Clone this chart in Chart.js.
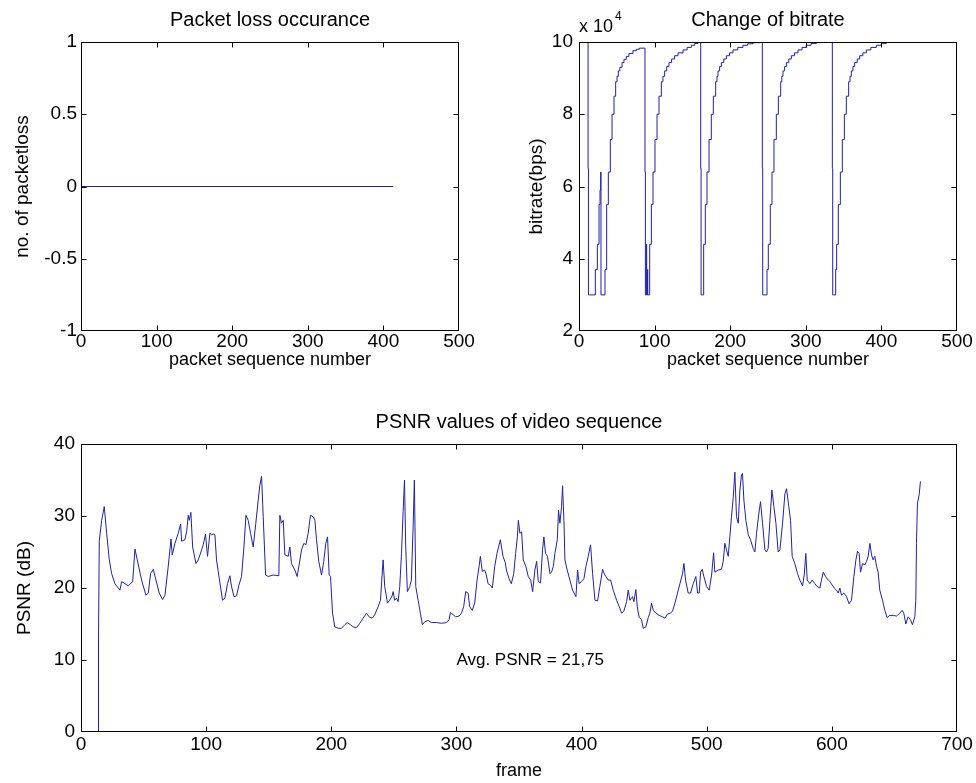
<!DOCTYPE html>
<html><head><meta charset="utf-8">
<script src="https://cdn.jsdelivr.net/npm/chart.js@4.4.0/dist/chart.umd.min.js"></script>
<style>
html,body{margin:0;padding:0;background:#fff;}
body{width:976px;height:783px;position:relative;overflow:hidden;}
.box{position:absolute;}
</style></head><body>
<div class="box" style="left:0;top:0;width:480px;height:380px"><canvas id="c1"></canvas></div>
<div class="box" style="left:490px;top:0;width:486px;height:380px"><canvas id="c2"></canvas></div>
<div class="box" style="left:0;top:400px;width:976px;height:383px"><canvas id="c3"></canvas></div>
<script>
// ---------- data ----------
const lossSeq = [1, 413];
const lossCount = [0, 0];

// bitrate: packet number where the rate changes, and the new rate (bps)
const bitrateSeq = [
  1, 12, 12.5, 21.6, 24.3, 26.5, 27.8, 28.7, 29.1,
  34.4, 36.6, 38.8, 41.4, 43.7, 46.3, 48.5, 50.3, 52, 54, 56.9, 59.5, 62.6, 66, 71.4, 75.8, 80,
  87.3, 87.8, 89, 89.5, 90.5, 91,
  93.5, 95.7, 97.9, 100.5, 103.2, 105.8, 108.9, 111, 113.3, 116, 119, 122.5, 126.5, 131, 137.6, 143, 148.6, 153, 157.4,
  161, 161.5,
  164.9, 167.1, 169.3, 172, 175, 177.7, 180.8, 182.5, 183.9, 186, 188.3, 191.5, 194.9, 199, 203.7, 210, 216.9, 223, 230.2, 239,
  242.5, 243,
  248.7, 250.4, 253, 255.3, 257.9, 261, 263.7, 266.8, 268.3, 269.8, 272, 274.3, 277.5, 280.9, 285, 289.7, 295, 300.7, 307, 313.9,
  335.1, 335.6,
  339.5, 340.8, 343, 345.7, 348.3, 351, 353.6, 356.7, 358.5, 360.2, 362.3, 364.6, 368, 371.3, 375.5, 380.1, 386, 393.3, 400, 406.5, 412];
const bitrateBps = [
  100000, 65000, 30000, 37000, 44000, 55000, 59000, 64000, 30000,
  37000, 55000, 64000, 73000, 80000, 85000, 89000, 90500, 92000, 93000, 94300, 95200, 96000, 96800, 97600, 98000, 98300,
  64000, 30000, 44000, 30000, 37000, 30000,
  44000, 55000, 64000, 73000, 80000, 85000, 89000, 90500, 92000, 93200, 94300, 95300, 96200, 97000, 97800, 98500, 99100, 99600, 100000,
  65000, 30000,
  44000, 55000, 64000, 73000, 80000, 85000, 89000, 90500, 92000, 93200, 94300, 95300, 96200, 97000, 97800, 98500, 99100, 99500, 99800, 100000,
  65000, 30000,
  37000, 44000, 55000, 64000, 73000, 80000, 85000, 89000, 90500, 92000, 93200, 94300, 95300, 96200, 97000, 97800, 98500, 99100, 99600, 100000,
  65000, 30000,
  37000, 44000, 55000, 64000, 73000, 80000, 85000, 89000, 90500, 92000, 93200, 94300, 95300, 96200, 97000, 97800, 98500, 99100, 99600, 100000, 100000];

const psnrFrames = [13.8, 14.0, 14.6, 16.5, 18.6, 20.5, 22.6, 24.5, 27.1, 31.1,
  32.5, 35.1, 37.8, 41.3, 43.1, 45.0, 48.4, 51.9, 53.8, 55.6,
  57.8, 59.9, 62.5, 65.2, 67.1, 69.7, 71.9, 72.9, 75.1, 77.7,
  79.6, 80.4, 83.0, 84.4, 85.7, 86.5, 87.8, 89.2, 91.8, 93.7,
  96.4, 97.7, 99.5, 101.1, 103.0, 104.3, 105.7, 107.0, 108.3, 110.5,
  113.1, 115.0, 117.1, 119.0, 120.3, 122.2, 124.3, 126.2, 128.3, 130.2,
  131.8, 133.6, 135.5, 137.6, 139.7, 141.6, 142.9, 144.3, 145.6, 147.5,
  149.6, 153.6, 158.1, 158.9, 160.2, 161.6, 162.9, 165.6, 166.9, 168.2,
  170.9, 172.7, 174.3, 176.2, 178.1, 179.7, 181.5, 183.4, 185.5, 186.9,
  188.2, 190.0, 192.2, 194.0, 195.6, 197.0, 198.3, 199.4, 201.0, 202.8,
  205.5, 208.1, 210.8, 212.7, 215.3, 217.5, 220.1, 222.8, 225.4, 228.1,
  230.2, 232.6, 234.8, 237.4, 239.3, 240.6, 241.4, 242.7, 244.9, 246.7,
  248.6, 249.4, 250.7, 252.1, 253.4, 254.7, 256.1, 257.4, 258.5, 259.5,
  260.8, 262.7, 264.0, 265.4, 266.4, 267.5, 269.4, 271.2, 272.8, 274.7,
  277.3, 280.0, 284.0, 288.0, 292.0, 294.1, 295.2, 297.3, 299.4, 302.1,
  304.0, 305.8, 307.4, 309.3, 310.6, 312.7, 314.6, 316.5, 318.1, 319.1,
  320.7, 322.6, 323.9, 325.3, 327.1, 328.7, 330.6, 332.4, 335.1, 337.2,
  339.1, 339.9, 342.0, 343.9, 345.8, 347.3, 348.7, 349.5, 350.7, 352.1,
  353.4, 355.5, 357.4, 359.3, 360.9, 362.7, 364.1, 365.4, 367.2, 368.8,
  369.9, 371.2, 372.8, 374.7, 376.0, 377.4, 378.7, 380.6, 381.6, 382.7,
  384.0, 384.8, 385.9, 386.7, 388.5, 390.7, 392.8, 395.5, 396.8, 398.1,
  400.0, 401.9, 403.5, 405.3, 407.2, 408.8, 410.7, 412.8, 414.6, 416.8,
  417.8, 419.4, 421.3, 423.2, 425.3, 428.0, 430.1, 432.0, 433.8, 436.0,
  437.3, 438.6, 440.7, 441.8, 443.4, 444.5, 446.1, 447.9, 449.3, 451.4,
  453.3, 454.6, 455.9, 457.3, 459.4, 462.0, 464.7, 466.6, 468.7, 471.1,
  472.7, 474.6, 476.7, 478.6, 480.7, 481.8, 483.1, 485.2, 487.1, 489.2,
  491.3, 492.7, 494.0, 495.1, 496.4, 497.7, 499.9, 502.0, 503.9, 505.5,
  506.5, 509.2, 511.8, 513.2, 514.5, 515.8, 517.2, 518.5, 519.8, 521.2,
  522.5, 523.8, 525.2, 526.5, 527.8, 528.6, 529.7, 531.3, 533.2, 535.0,
  537.1, 538.5, 539.8, 541.7, 543.0, 544.6, 546.5, 547.8, 549.1, 550.5,
  552.1, 553.7, 555.3, 557.1, 558.5, 560.6, 562.5, 563.8, 565.6, 567.0,
  568.3, 570.4, 572.6, 574.4, 576.6, 577.9, 579.2, 580.3, 582.4, 584.3,
  586.4, 588.3, 590.4, 591.7, 593.1, 594.9, 597.1, 598.4, 600.3, 601.9,
  603.7, 605.1, 606.4, 607.7, 609.6, 611.7, 613.8, 615.7, 617.6, 619.2,
  620.5, 621.8, 622.9, 624.5, 626.4, 627.7, 629.0, 630.4, 631.7, 633.0,
  634.3, 635.7, 637.0, 638.3, 640.5, 642.3, 644.2, 646.3, 649.0, 651.6,
  654.3, 656.2, 657.5, 659.1, 661.0, 662.8, 664.4, 666.3, 667.1, 667.6,
  668.4, 669.7, 670.8];
const psnrDb = [0, 13.2, 26.5, 29.4, 31.3, 27.6, 23.9, 22.0, 20.6, 19.7,
  20.9, 20.6, 20.3, 20.9, 25.4, 23.9, 21.1, 19.0, 19.3, 22.0,
  22.6, 21.1, 19.3, 18.4, 19.0, 23.0, 26.8, 24.6, 26.2, 27.6,
  28.9, 26.5, 26.7, 27.8, 30.1, 29.4, 30.5, 25.7, 23.4, 23.9,
  25.3, 26.0, 27.5, 24.4, 27.6, 27.4, 27.5, 27.4, 23.9, 21.3,
  18.3, 18.6, 20.6, 21.7, 20.2, 18.8, 18.9, 20.4, 21.6, 25.7,
  30.1, 29.4, 27.6, 25.7, 29.0, 32.2, 34.3, 35.5, 29.9, 21.8,
  21.6, 21.8, 21.7, 30.1, 29.0, 29.4, 24.6, 24.4, 25.7, 23.4,
  22.5, 21.6, 23.2, 25.3, 26.2, 26.0, 27.6, 30.1, 29.9, 29.4,
  26.7, 23.7, 21.8, 23.7, 26.2, 27.1, 21.8, 21.6, 16.5, 14.6,
  14.4, 14.4, 14.9, 15.2, 14.9, 14.6, 14.5, 15.1, 15.8, 16.5,
  16.0, 15.8, 16.3, 17.4, 18.3, 21.8, 23.9, 20.2, 17.9, 18.3,
  18.9, 19.5, 18.3, 18.6, 18.1, 20.2, 24.8, 30.6, 35.0, 25.7,
  19.5, 20.2, 21.1, 28.5, 35.0, 20.2, 18.3, 16.5, 14.9, 15.3,
  15.5, 15.2, 15.2, 15.1, 15.2, 15.6, 16.6, 16.3, 16.0, 16.1,
  16.5, 17.4, 19.5, 19.3, 17.4, 16.9, 17.9, 21.1, 23.0, 24.4,
  22.3, 22.5, 21.8, 20.6, 20.4, 20.0, 23.0, 24.8, 26.7, 24.4,
  23.5, 22.5, 21.3, 20.6, 22.0, 24.8, 27.1, 29.4, 27.6, 27.8,
  23.9, 23.0, 21.6, 21.1, 19.5, 22.5, 23.7, 20.9, 20.7, 25.3,
  27.1, 24.8, 24.4, 22.0, 22.2, 23.0, 24.8, 26.7, 30.8, 29.0,
  31.3, 34.2, 29.4, 23.9, 22.5, 21.1, 19.7, 18.8, 22.5, 20.6,
  20.9, 21.3, 23.0, 24.4, 26.0, 22.0, 18.3, 18.2, 20.2, 22.6,
  22.1, 21.6, 21.1, 21.1, 19.7, 18.3, 17.4, 16.5, 16.8, 18.1,
  19.7, 18.3, 18.8, 18.1, 19.8, 17.4, 15.9, 15.6, 14.4, 14.6,
  15.9, 16.5, 17.9, 16.9, 16.5, 16.2, 16.0, 15.8, 16.4, 16.5,
  16.8, 17.9, 19.3, 20.6, 22.0, 23.4, 21.1, 19.3, 19.3, 20.6,
  21.6, 19.3, 19.3, 22.2, 22.6, 21.6, 20.2, 19.7, 21.8, 24.9,
  22.2, 22.5, 22.6, 23.7, 26.2, 25.3, 24.4, 27.1, 29.9, 32.6,
  36.1, 29.9, 29.0, 33.6, 35.7, 35.9, 32.2, 29.4, 27.4, 26.7,
  25.5, 25.0, 27.6, 30.4, 32.0, 29.0, 25.3, 25.0, 25.5, 29.4,
  33.6, 31.3, 29.0, 25.0, 25.3, 29.0, 33.1, 33.8, 31.3, 29.4,
  24.4, 23.4, 22.0, 21.1, 20.3, 21.8, 24.8, 21.1, 20.6, 21.1,
  20.6, 20.2, 20.0, 21.1, 22.2, 21.6, 21.1, 20.9, 20.4, 20.0,
  19.7, 19.3, 20.0, 19.0, 19.3, 18.8, 17.8, 18.3, 21.6, 23.9,
  25.1, 24.8, 22.2, 23.4, 23.2, 23.7, 24.4, 26.2, 24.6, 23.9,
  24.4, 23.0, 22.2, 19.7, 18.3, 16.9, 15.9, 16.2, 16.2, 16.1,
  16.5, 16.9, 16.5, 15.0, 16.0, 15.6, 14.9, 16.0, 18.3, 26.2,
  31.8, 32.9, 34.8];

const avgText = 'Avg. PSNR = 21,75';
const avgPos = {x: 300, y: 10};

// ---------- helpers ----------
const FAM = '"Liberation Sans", Arial, Helvetica, sans-serif';
const LINE = '#2020a8';
Chart.defaults.font.family = FAM;
Chart.defaults.color = '#000';

const matlabBox = {
  id: 'matlabBox',
  afterDatasetsDraw(chart) {
    const {ctx, chartArea: a, scales: {x, y}} = chart;
    const L = 5;
    ctx.save();
    ctx.strokeStyle = '#000';
    ctx.lineWidth = 1;
    const l = Math.round(a.left) + 0.5, r = Math.round(a.right) - 0.5;
    const t = Math.round(a.top) + 0.5, b = Math.round(a.bottom) - 0.5;
    ctx.strokeRect(l, t, r - l, b - t);
    ctx.beginPath();
    x.ticks.forEach(tk => {
      const p = Math.round(x.getPixelForValue(tk.value)) + 0.5;
      if (p <= l + 1 || p >= r - 1) return;
      ctx.moveTo(p, b); ctx.lineTo(p, b - L);
      ctx.moveTo(p, t); ctx.lineTo(p, t + L);
    });
    y.ticks.forEach(tk => {
      const p = Math.round(y.getPixelForValue(tk.value)) + 0.5;
      if (p <= t + 1 || p >= b - 1) return;
      ctx.moveTo(l, p); ctx.lineTo(l + L, p);
      ctx.moveTo(r, p); ctx.lineTo(r - L, p);
    });
    ctx.stroke();
    ctx.restore();
  }
};

function xAxis(max, text, height, tickPad, titlePadBottom) {
  return {
    type: 'linear', min: 0, max: max,
    grid: {display: false, drawTicks: false}, border: {display: false},
    ticks: {stepSize: 100, padding: tickPad, color: '#000', maxRotation: 0, autoSkip: false,
            font: {size: 19, lineHeight: 1}},
    title: {display: true, text: text, color: '#000', font: {size: 18}, padding: {top: 0, bottom: titlePadBottom}},
    afterFit(s) { s.height = height; }
  };
}
function yAxis(min, max, step, text, width, tickPad, titlePadTop, cb) {
  return {
    type: 'linear', min: min, max: max,
    grid: {display: false, drawTicks: false}, border: {display: false},
    ticks: {stepSize: step, padding: tickPad, color: '#000', font: {size: 19}, callback: cb},
    title: {display: true, text: text, color: '#000', font: {size: 19}, padding: {top: titlePadTop, bottom: 0}},
    afterFit(s) { s.width = width; }
  };
}
function titleOpt(text, top, bottom) {
  return {display: true, text: text, color: '#000', fullSize: false,
          font: {size: 20, weight: 'normal'}, padding: {top: top, bottom: bottom}};
}
const base = {responsive: true, maintainAspectRatio: false, animation: false,
              events: [], parsing: false};
const plain = v => String(v);

// ---------- chart 1 ----------
new Chart(document.getElementById('c1'), {
  type: 'line',
  data: {datasets: [{data: lossSeq.map((v, i) => ({x: v, y: lossCount[i]})),
    borderColor: LINE, borderWidth: 1, pointRadius: 0, tension: 0}]},
  options: Object.assign({}, base, {
    layout: {padding: {left: 0, right: 21, top: 0, bottom: 0}},
    plugins: {legend: {display: false}, tooltip: {enabled: false},
              title: titleOpt('Packet loss occurance', 8, 10)},
    scales: {
      x: xAxis(500, 'packet sequence number', 49, 1, 9),
      y: yAxis(-1, 1, 0.5, 'no. of packetloss', 81, 4, 11, plain)
    }
  }),
  plugins: [matlabBox]
});

// ---------- chart 2 ----------
const expLabel = {
  id: 'expLabel',
  afterDraw(chart) {
    const {ctx, chartArea: a} = chart;
    ctx.save();
    ctx.fillStyle = '#000';
    ctx.textBaseline = 'middle';
    ctx.textAlign = 'left';
    ctx.font = '18px ' + FAM;
    ctx.fillText('x 10', a.left, a.top - 15);
    const w = ctx.measureText('x 10').width;
    ctx.font = '12px ' + FAM;
    ctx.fillText('4', a.left + w + 2, a.top - 25);
    ctx.restore();
  }
};
new Chart(document.getElementById('c2'), {
  type: 'line',
  data: {datasets: [{data: bitrateSeq.map((v, i) => ({x: v, y: bitrateBps[i]})),
    borderColor: LINE, borderWidth: 1, pointRadius: 0, stepped: true}]},
  options: Object.assign({}, base, {
    layout: {padding: {left: 0, right: 19, top: 0, bottom: 0}},
    plugins: {legend: {display: false}, tooltip: {enabled: false},
              title: titleOpt('Change of bitrate', 8, 10)},
    scales: {
      x: xAxis(500, 'packet sequence number', 49, 1, 9),
      y: yAxis(20000, 100000, 20000, 'bitrate(bps)', 89, 6, 35, v => String(v / 10000))
    }
  }),
  plugins: [matlabBox, expLabel]
});

// ---------- chart 3 ----------
const avgLabel = {
  id: 'avgLabel',
  afterDraw(chart) {
    const {ctx, scales: {x, y}} = chart;
    ctx.save();
    ctx.fillStyle = '#000';
    ctx.textBaseline = 'middle';
    ctx.textAlign = 'left';
    ctx.font = '17px ' + FAM;
    ctx.fillText(avgText, x.getPixelForValue(avgPos.x), y.getPixelForValue(avgPos.y));
    ctx.restore();
  }
};
new Chart(document.getElementById('c3'), {
  type: 'line',
  data: {datasets: [{data: psnrFrames.map((v, i) => ({x: v, y: psnrDb[i]})),
    borderColor: LINE, borderWidth: 1, pointRadius: 0, tension: 0}]},
  options: Object.assign({}, base, {
    layout: {padding: {left: 0, right: 19, top: 0, bottom: 0}},
    plugins: {legend: {display: false}, tooltip: {enabled: false},
              title: titleOpt('PSNR values of video sequence', 10, 10)},
    scales: {
      x: xAxis(700, 'frame', 51, 3, 1),
      y: yAxis(0, 40, 10, 'PSNR (dB)', 81, 6, 13, plain)
    }
  }),
  plugins: [matlabBox, avgLabel]
});
</script>
</body></html>
